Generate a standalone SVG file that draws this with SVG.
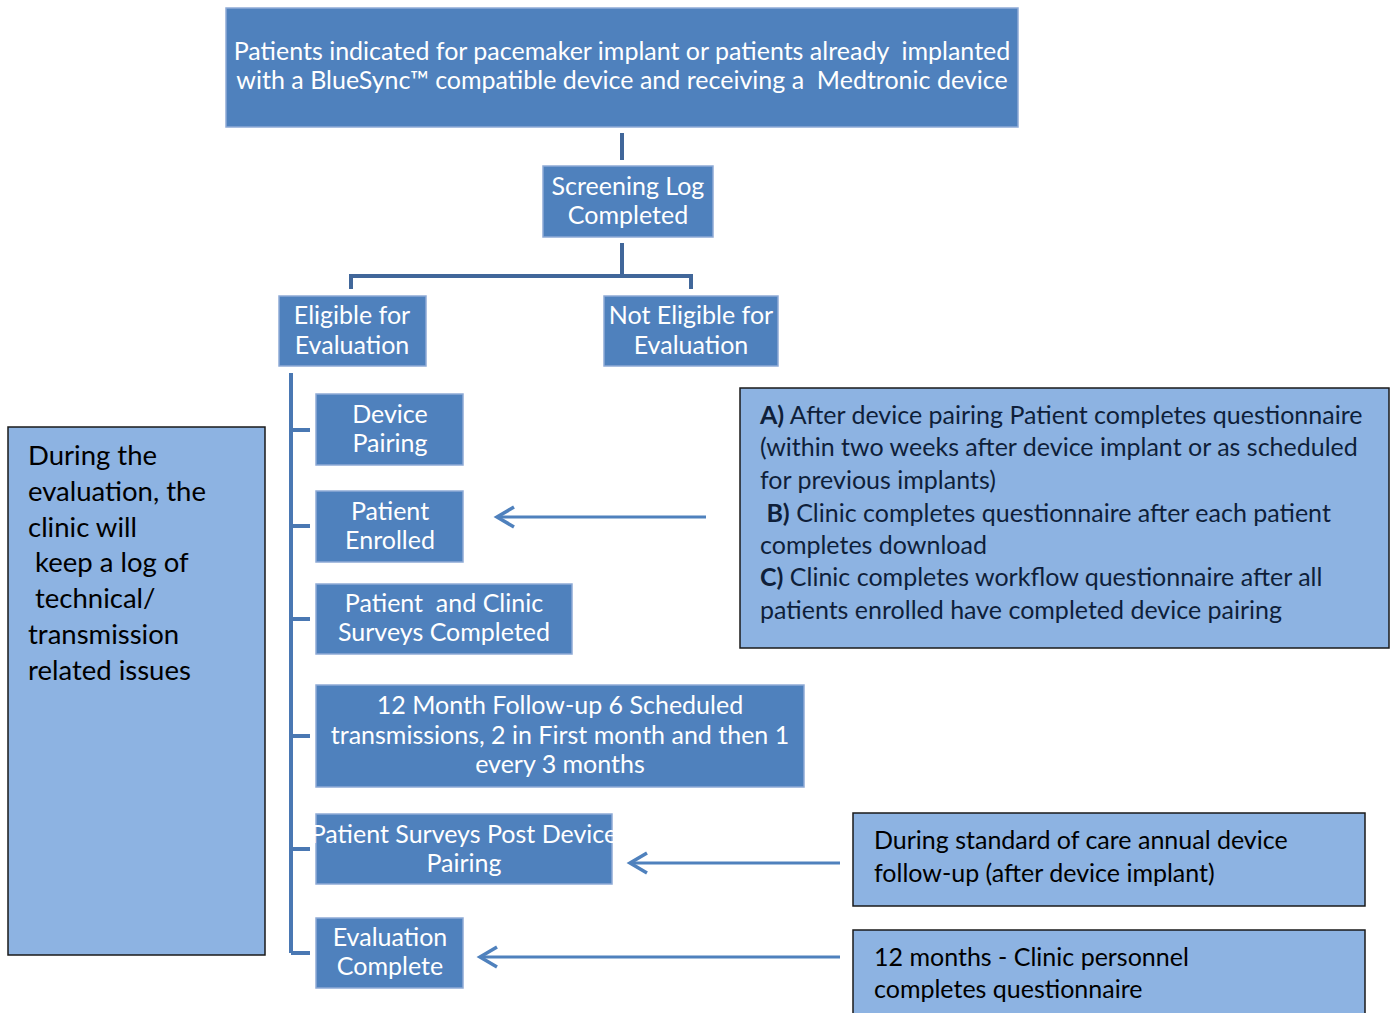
<svg xmlns="http://www.w3.org/2000/svg" width="1390" height="1013" viewBox="0 0 1390 1013">
<defs>
<style>
.n{fill:#4f81bd;stroke:#8eaad6;stroke-width:1.5}
.l{fill:#8db3e2;stroke:#1a1a1a;stroke-width:1.5}
.t{font-family:Lato,"Open Sans",sans-serif;fill:#ffffff;text-anchor:middle;font-size:25px}
.d{font-family:Lato,"Open Sans",sans-serif;fill:#0f1f3a;font-size:25px}
.b{fill:#000}
.k{fill:#000;font-size:27.5px}
.c{fill:none;stroke:#41679a;stroke-width:4}
.v{fill:none;stroke:#4a78b3;stroke-width:4}
.a{fill:none;stroke:#4f81bd;stroke-width:3}
</style>
<marker id="ah" viewBox="0 0 26 26" refX="21" refY="13" markerWidth="26" markerHeight="26" markerUnits="userSpaceOnUse" orient="auto">
<path d="M4,3 L21,13 L4,23" fill="none" stroke="#4f81bd" stroke-width="3.5"/>
</marker>
</defs>
<rect width="1390" height="1013" fill="#ffffff"/>
<g id="connectors">
<path class="c" d="M622,133 V160"/>
<path class="c" d="M622,243 V276 M351,289 V276 H691 V289"/>
<path class="v" d="M291,373 V953 M291,430 H310 M291,526 H310 M291,619 H310 M291,736 H310 M291,849 H310 M291,953 H310"/>
<path class="a" d="M706,517 H497" marker-end="url(#ah)"/>
<path class="a" d="M840,863 H630" marker-end="url(#ah)"/>
<path class="a" d="M840,957 H480" marker-end="url(#ah)"/>
</g>
<g id="top">
<rect class="n" x="226" y="8" width="792" height="119"/>
<text class="t" x="622" y="60" xml:space="preserve">Patients indicated for pacemaker implant or patients already  implanted</text>
<text class="t" x="622" y="89" xml:space="preserve">with a BlueSync™ compatible device and receiving a  Medtronic device</text>
</g>
<g id="screening">
<rect class="n" x="543" y="166" width="170" height="71"/>
<text class="t" x="628" y="195">Screening Log</text>
<text class="t" x="628" y="224">Completed</text>
</g>
<g id="eligible">
<rect class="n" x="279" y="296" width="147" height="70"/>
<text class="t" x="352" y="324">Eligible for</text>
<text class="t" x="352" y="354">Evaluation</text>
</g>
<g id="not-eligible">
<rect class="n" x="604" y="296" width="174" height="70"/>
<text class="t" x="691" y="324">Not Eligible for</text>
<text class="t" x="691" y="354">Evaluation</text>
</g>
<g id="device-pairing">
<rect class="n" x="316" y="394" width="147" height="71"/>
<text class="t" x="390" y="423">Device</text>
<text class="t" x="390" y="452">Pairing</text>
</g>
<g id="patient-enrolled">
<rect class="n" x="316" y="491" width="147" height="71"/>
<text class="t" x="390" y="520">Patient</text>
<text class="t" x="390" y="549">Enrolled</text>
</g>
<g id="surveys-completed">
<rect class="n" x="316" y="584" width="256" height="70"/>
<text class="t" x="444" y="612" xml:space="preserve">Patient  and Clinic</text>
<text class="t" x="444" y="641">Surveys Completed</text>
</g>
<g id="follow-up">
<rect class="n" x="316" y="685" width="488" height="102"/>
<text class="t" x="560" y="714">12 Month Follow-up 6 Scheduled</text>
<text class="t" x="560" y="744">transmissions, 2 in First month and then 1</text>
<text class="t" x="560" y="773">every 3 months</text>
</g>
<g id="post-pairing">
<rect class="n" x="316" y="814" width="296" height="70"/>
<text class="t" x="464" y="843">Patient Surveys Post Device</text>
<text class="t" x="464" y="872">Pairing</text>
</g>
<g id="evaluation-complete">
<rect class="n" x="316" y="918" width="147" height="70"/>
<text class="t" x="390" y="946">Evaluation</text>
<text class="t" x="390" y="975">Complete</text>
</g>
<g id="log-note">
<rect class="l" x="8" y="427" width="257" height="528"/>
<text class="d k" x="28" y="465">During the</text>
<text class="d k" x="28" y="501">evaluation, the</text>
<text class="d k" x="28" y="537">clinic will</text>
<text class="d k" x="28" y="572" xml:space="preserve"> keep a log of</text>
<text class="d k" x="28" y="608" xml:space="preserve"> technical/</text>
<text class="d k" x="28" y="644">transmission</text>
<text class="d k" x="28" y="680">related issues</text>
</g>
<g id="questionnaire-note">
<rect class="l" x="740" y="388" width="649" height="260"/>
<text class="d" x="760" y="424"><tspan font-weight="bold">A)</tspan> After device pairing Patient completes questionnaire</text>
<text class="d" x="760" y="456">(within two weeks after device implant or as scheduled</text>
<text class="d" x="760" y="489">for previous implants)</text>
<text class="d" x="760" y="522" xml:space="preserve"> <tspan font-weight="bold">B)</tspan> Clinic completes questionnaire after each patient</text>
<text class="d" x="760" y="554">completes download</text>
<text class="d" x="760" y="586"><tspan font-weight="bold">C)</tspan> Clinic completes workflow questionnaire after all</text>
<text class="d" x="760" y="619">patients enrolled have completed device pairing</text>
</g>
<g id="annual-note">
<rect class="l" x="853" y="813" width="512" height="93"/>
<text class="d b" x="874" y="849">During standard of care annual device</text>
<text class="d b" x="874" y="882">follow-up (after device implant)</text>
</g>
<g id="clinic-note">
<rect class="l" x="853" y="930" width="512" height="90"/>
<text class="d b" x="874" y="966">12 months - Clinic personnel</text>
<text class="d b" x="874" y="998">completes questionnaire</text>
</g>
</svg>
